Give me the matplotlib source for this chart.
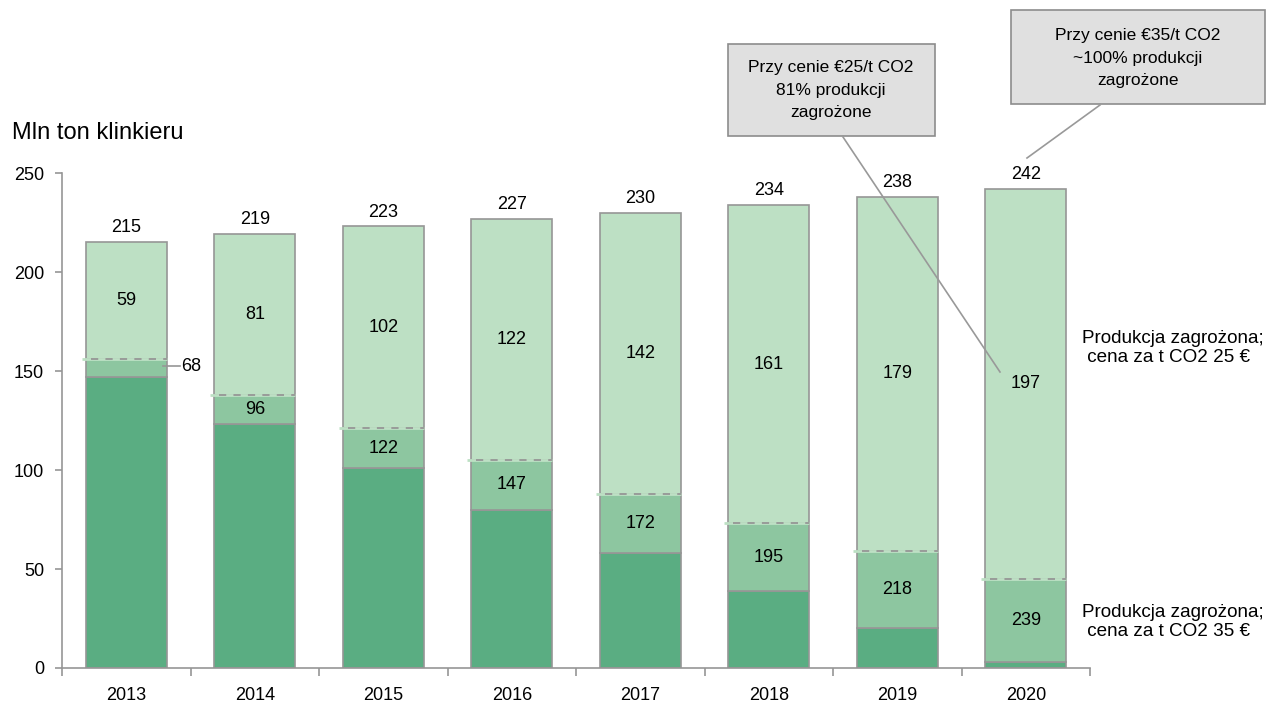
import numpy as np
import matplotlib
matplotlib.use("Agg")
from matplotlib import pyplot as plt
from matplotlib.patches import Rectangle

plt.rcParams['font.family'] = ['Liberation Sans', 'DejaVu Sans']

years = ["2013", "2014", "2015", "2016", "2017", "2018", "2019", "2020"]
total = [215, 219, 223, 227, 230, 234, 238, 242]
# production at risk at 25 EUR/t CO2 (top, light segment)
risk_25 = [59, 81, 102, 122, 142, 161, 179, 197]
# production at risk at 35 EUR/t CO2 (cumulative label)
risk_35 = [68, 96, 122, 147, 172, 195, 218, 239]

total = np.array(total)
risk_25 = np.array(risk_25)
risk_35 = np.array(risk_35)
safe = total - risk_35
mid = risk_35 - risk_25

c_dark = "#5aad82"
c_mid = "#8dc6a0"
c_light = "#bde0c4"
edge = "#969696"

fig = plt.figure(figsize=(12.71, 7.08), dpi=100)
ax = fig.add_axes([0.0488, 0.0565, 0.8088, 0.6991])

x = np.arange(len(years))
w = 0.63
ax.bar(x, safe, w, color=c_dark, edgecolor=edge, linewidth=1.2)
ax.bar(x, mid, w, bottom=safe, color=c_mid, edgecolor=edge, linewidth=1.2)
ax.bar(x, risk_25, w, bottom=safe + mid, color=c_light, edgecolor=edge, linewidth=1.2)

# dashed boundary between the two risk segments
for i in range(len(x)):
    yb = safe[i] + mid[i]
    ax.plot([x[i] - w / 2 - 0.03, x[i] + w / 2], [yb, yb], color=c_light, lw=2, zorder=3, solid_capstyle="butt")
    ax.plot([x[i] - w / 2 + 0.04, x[i] + w / 2], [yb, yb], color=edge, lw=1.3, ls=(0, (4, 4)), zorder=4)

fs = 13
for i in range(len(x)):
    ax.text(x[i], total[i] + 3, str(total[i]), ha="center", va="bottom", fontsize=fs)
    ax.text(x[i], safe[i] + mid[i] + risk_25[i] / 2, str(risk_25[i]), ha="center", va="center", fontsize=fs)
    if i == 0:
        yl = safe[i] + mid[i] / 2 + 1
        ax.plot([x[i] + w / 2 - 0.03, x[i] + w / 2 + 0.1], [yl, yl], color=edge, lw=1.2)
        ax.text(x[i] + w / 2 + 0.11, yl, str(risk_35[i]), ha="left", va="center", fontsize=fs)
    else:
        ax.text(x[i], safe[i] + mid[i] / 2, str(risk_35[i]), ha="center", va="center", fontsize=fs)

ax.set_xlim(-0.5, len(x) - 0.5)
ax.set_ylim(0, 250)
ax.set_yticks([0, 50, 100, 150, 200, 250])
ax.set_xticks(x)
ax.set_xticklabels(years, fontsize=fs)
ax.set_xticks(np.arange(len(x) + 1) - 0.5, minor=True)
ax.tick_params(axis="x", which="major", length=0, pad=14)
ax.tick_params(axis="x", which="minor", length=6, color=edge, width=1.2, direction="out")
ax.tick_params(axis="y", length=5, color=edge, width=1.2, labelsize=fs, pad=8)
for s in ["top", "right"]:
    ax.spines[s].set_visible(False)
for s in ["left", "bottom"]:
    ax.spines[s].set_color(edge)
    ax.spines[s].set_linewidth(1.2)

fig.text(12 / 1271, 1 - 133 / 708, "Mln ton klinkieru", fontsize=17, ha="left", va="center")

# side labels
fig.text(1082 / 1271, 1 - 348 / 708, "Produkcja zagrożona;\n cena za t CO2 25 €", fontsize=13.6,
         ha="left", va="center", linespacing=1.2)
fig.text(1082 / 1271, 1 - 622 / 708, "Produkcja zagrożona;\n cena za t CO2 35 €", fontsize=13.6,
         ha="left", va="center", linespacing=1.2)

# callout boxes
W, H = 1271, 708
for (x0, y0, x1, y1) in [(728, 44, 935, 136), (1011, 10, 1265, 104)]:
    fig.add_artist(Rectangle((x0 / W, 1 - y1 / H), (x1 - x0) / W, (y1 - y0) / H,
                             facecolor="#e0e0e0", edgecolor="#8c8c8c", linewidth=1.2,
                             transform=fig.transFigure))
fig.text(831 / W, 1 - 90 / H, "Przy cenie €25/t CO2\n81% produkcji\nzagrożone", fontsize=12.5,
         ha="center", va="center", linespacing=1.62)
fig.text(1138 / W, 1 - 58 / H, "Przy cenie €35/t CO2\n~100% produkcji\nzagrożone", fontsize=12.5,
         ha="center", va="center", linespacing=1.62)
fig.add_artist(plt.Line2D([843 / W, 1000 / W], [1 - 137 / H, 1 - 372 / H],
                          color="#999999", lw=1.2))
fig.add_artist(plt.Line2D([1100 / W, 1027 / W], [1 - 105 / H, 1 - 158 / H],
                          color="#999999", lw=1.2))

fig.savefig("out.png", dpi=100)
